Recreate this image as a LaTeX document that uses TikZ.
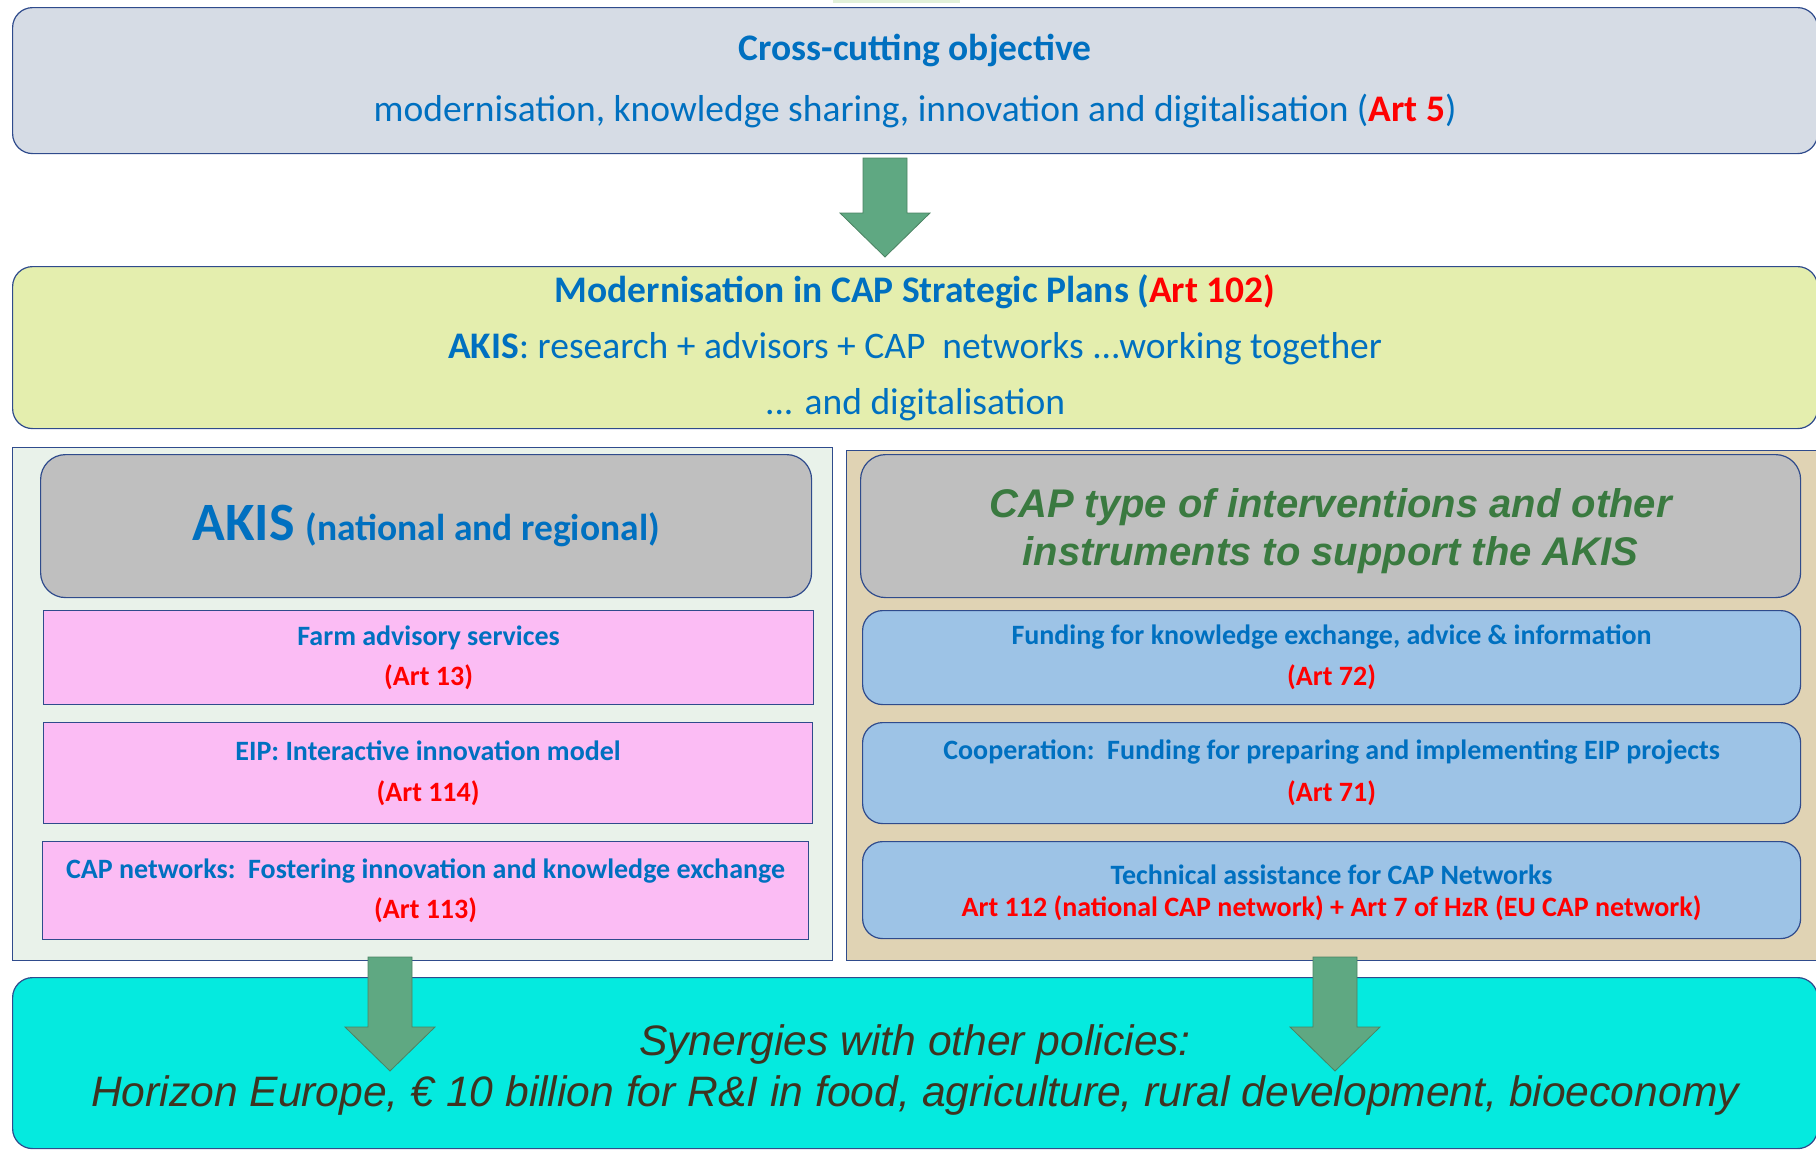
\documentclass[tikz,border=0pt]{standalone}
\usepackage{fontspec}
\setmainfont{Carlito}
\newfontfamily\arialfont{Liberation Sans}

\definecolor{capblue}{HTML}{0070C0}
\definecolor{capred}{HTML}{FF0000}
\definecolor{capgreen}{HTML}{3A7A40}
\definecolor{capbrown}{HTML}{3F3320}
\definecolor{navy}{HTML}{2F4B8C}
\definecolor{topfill}{HTML}{D6DCE5}
\definecolor{planfill}{HTML}{E4EEAE}
\definecolor{leftfill}{HTML}{E9F2EA}
\definecolor{rightfill}{HTML}{E0D3B4}
\definecolor{grayfill}{HTML}{BFBFBF}
\definecolor{pinkfill}{HTML}{FBBCF4}
\definecolor{bluefill}{HTML}{9DC3E6}
\definecolor{cyanfill}{HTML}{05EADF}
\definecolor{arrowfill}{HTML}{5FA882}
\definecolor{arrowline}{HTML}{4B8262}
\definecolor{tabfill}{HTML}{E2F0D9}

\tikzset{
  box/.style={draw=navy, line width=1.2pt, anchor=north west, inner sep=0pt,
    align=center, text=capblue},
  roundbox/.style={box, rounded corners=20pt},
  panel/.style={draw=navy, line width=0.8pt, anchor=north west, inner sep=0pt},
  bigarrow/.style={fill=arrowfill, draw=arrowline, line width=0.8pt},
}

\begin{document}
\begin{tikzpicture}[x=1pt,y=-1pt]
\useasboundingbox (0,0) rectangle (1816,1151);

% Tab remnant at the top
\fill[tabfill] (833,0) rectangle (960,3);

% Cross-cutting objective
\node[roundbox, fill=topfill, minimum width=1805, minimum height=146,
  font={\fontsize{37.5}{61}\selectfont}] (cross) at (12,7)
  {\textbf{Cross-cutting objective}\\
   modernisation, knowledge sharing, innovation and digitalisation (\textbf{\color{capred}Art 5})};

% Strategic plans
\node[roundbox, fill=planfill, minimum width=1805, minimum height=162,
  font={\fontsize{37.5}{56}\selectfont}] (plan) at (12,266)
  {\textbf{Modernisation in CAP Strategic Plans (\color{capred}Art 102)}\\
   \textbf{AKIS}: research + advisors + CAP\ \ networks ...working together\\
   ... and digitalisation};

% Panels
\node[panel, fill=leftfill, minimum width=820, minimum height=513] (left) at (12,447) {};
\node[panel, fill=rightfill, minimum width=990, minimum height=510] (right) at (846,450) {};

% Panel headers
\node[box, rounded corners=25pt, fill=grayfill, minimum width=771, minimum height=143] (akis) at (40,454)
  {\bfseries{\fontsize{54}{60}\selectfont AKIS}{\fontsize{37.5}{40}\selectfont\hspace{11pt}(national and regional)}};
\node[box, rounded corners=25pt, fill=grayfill, minimum width=940, minimum height=143] (instr) at (860,454) {};
\node[text=capgreen, align=center, yshift=-5pt,
  font={\arialfont\bfseries\itshape\fontsize{40}{48}\selectfont}] (instrtext) at (instr.center)
  {CAP type of interventions and other\\ instruments to support the AKIS};

% AKIS boxes
\node[box, fill=pinkfill, minimum width=770, minimum height=94,
  font={\bfseries\fontsize{28}{40}\selectfont}] (fas) at (43,610)
  {Farm advisory services\\ \textcolor{capred}{(Art 13)}};
\node[box, fill=pinkfill, minimum width=769, minimum height=101,
  font={\bfseries\fontsize{28}{41}\selectfont}] (eip) at (43,722)
  {EIP: Interactive innovation model\\ \textcolor{capred}{(Art 114)}};
\node[box, fill=pinkfill, minimum width=766, minimum height=98,
  font={\bfseries\fontsize{28}{40}\selectfont}] (net) at (42,841)
  {CAP networks:\ \ Fostering innovation and knowledge exchange\\ \textcolor{capred}{(Art 113)}};

% Intervention boxes
\node[roundbox, fill=bluefill, minimum width=938, minimum height=94,
  font={\bfseries\fontsize{28}{41}\selectfont}] (fund) at (862,610)
  {Funding for knowledge exchange, advice \& information\\ \textcolor{capred}{(Art 72)}};
\node[roundbox, fill=bluefill, minimum width=938, minimum height=101,
  font={\bfseries\fontsize{28}{42}\selectfont}] (coop) at (862,722)
  {Cooperation:\ \ Funding for preparing and implementing EIP projects\\ \textcolor{capred}{(Art 71)}};
\node[roundbox, fill=bluefill, minimum width=938, minimum height=97] (tech) at (862,841) {};
\node[text=capblue, align=center, yshift=-3pt,
  font={\bfseries\fontsize{28}{32}\selectfont}] (techtext) at (tech.center)
  {Technical assistance for CAP Networks\\ \textcolor{capred}{Art 112 (national CAP network) + Art 7 of HzR (EU CAP network)}};

% Synergies
\node[roundbox, fill=cyanfill, minimum width=1805, minimum height=171] (syn) at (12,977) {};
\node[text=capbrown, align=center, yshift=-7pt,
  font={\arialfont\itshape\fontsize{42.6}{51}\selectfont}] (syntext) at (syn.center)
  {Synergies with other policies:\\
   Horizon Europe, € 10 billion for R\&I in food, agriculture, rural development, bioeconomy};

% Block arrows
\foreach \cx/\ytop/\yneck/\ytip in {885/158/213/257, 390/957/1027/1071, 1335/957/1027/1071}
  \draw[bigarrow] (\cx-22,\ytop) -- (\cx+22,\ytop) -- (\cx+22,\yneck) -- (\cx+45,\yneck)
    -- (\cx,\ytip) -- (\cx-45,\yneck) -- (\cx-22,\yneck) -- cycle;
\end{tikzpicture}
\end{document}
